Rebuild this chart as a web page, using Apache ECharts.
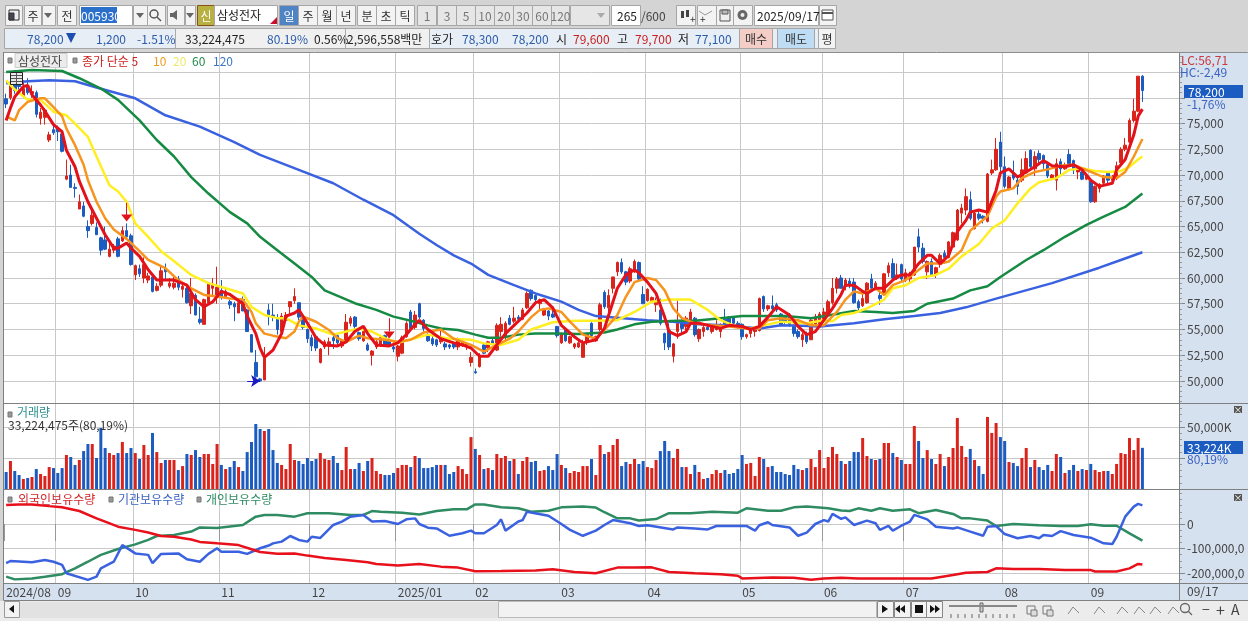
<!DOCTYPE html>
<html><head><meta charset="utf-8">
<style>html,body{margin:0;padding:0;background:#d4d4d4}#c{width:1248px;height:621px}</style>
<script src="https://cdn.jsdelivr.net/npm/echarts@6/dist/echarts.min.js"></script>
</head><body><div id="c"></div>
<script>
// ---- DATA (prices in thousand won) ----
const slotCount = 273;
const monthStarts = [0,12,30,50,71,91,109,129,149,171,190,209,232,252];
const monthLabels = ['2024/08','09','10','11','12','2025/01','02','03','04','05','06','07','08','09'];
// [open, close, low, high]
const candles = [
[77.4,76.9,76.5,77.9],[77.5,79,77.3,79.5],[79.6,78.2,77.9,80.2],[79,78.6,78.3,79.5],[77.7,78.4,77.5,79.2],[78.7,78,77.8,79.4],[77.9,78.1,77.5,78.7],[78,75.9,75.6,78.2],[75.5,76.1,74.9,76.5],[75.6,76.3,74.9,76.5],
[73.4,73.9,73.2,74.2],[74.4,74.1,73.9,75],[74.5,74.2,73.3,74.8],[74,72.3,72.2,74.2],[69.6,69.9,69.5,71.5],[70,68.8,68.8,71],[68.8,68.7,67.8,69.2],[66.7,67.4,66.7,68.1],[67,66,65.9,67.4],[65,64.6,63.9,65.6],
[65.3,66.1,65.1,66.6],[64.9,64.2,64.2,65.4],[63.9,62.7,62.2,64],[63.7,62.8,62.7,65],[62.1,62.8,62,63.5],[62.7,63.1,62.4,63.3],[63.8,62.1,62,64],[63.6,64.6,63.5,65],[64.6,64,63.9,65.3],[64.1,61.3,61.2,64.3],
[60.3,61.2,59.8,61.3],[60.9,60.4,60.1,61.3],[60,61.3,59.5,62],[59.8,60.2,59.5,60.5],[60.1,58.7,58.6,60.2],[58.8,59.2,58.7,59.5],[59.3,60.7,59.1,61.2],[60.9,60.6,59.8,61.4],[59.2,59.5,59,60],[59.1,59.5,58.9,60.1],
[59.9,59.1,58.8,60.2],[58.9,59.2,58.1,59.5],[59,57.6,57.5,59.3],[57.3,58.5,56.5,60],[58.3,56.4,56.4,58.5],[56,55.7,55.5,57.2],[55.5,57.9,55.5,58],[57.6,59.5,57.5,59.5],[59,59.3,58.3,60],[58.2,59.1,57.5,61.1],
[58.8,58.2,57.9,59.8],[58.2,58.7,58,59],[57.7,57.4,57,57.9],[57.5,57.2,55.8,57.7],[56.6,57.6,56.6,57.9],[57.9,56.8,56.8,58.2],[56.9,54.8,54.8,57],[54.5,52.8,52.8,54.5],[51.8,50.4,50.3,53],[50.2,50,49.9,50.3],
[50.1,52.2,50.1,53.3],[56.9,56.4,55.4,57.5],[56.4,56.2,55.8,57.5],[56,55,54.5,56.5],[54.8,56.3,54.4,56.6],[55.9,56.4,55.8,56.7],[57.2,57.7,56.5,57.7],[57.8,58.2,57.5,59],[57.6,56.2,55.9,57.6],[56.1,55.2,55,56.5],
[55,54.1,53.7,55.1],[54.2,53.4,52.9,54.5],[54.3,53.2,52.9,54.4],[51.8,53.1,51.7,53.2],[53.3,53.8,53.1,54],[53.4,53.8,52.5,54.2],[54.2,53.9,53.1,54.5],[54.4,53.7,53.5,54.6],[53.4,53.9,53.2,54],[53.8,55.7,53.8,56.5],
[55.6,56.1,55.3,56.3],[56.2,55.3,54.8,56.3],[54.7,54.1,53.9,54.8],[53.9,54.8,53.8,55],[53.5,53,52.9,53.7],[52.5,52.9,51.5,53],[53.3,53.8,53.1,54],[53.5,54.2,53.3,54.4],[54.4,53.4,53.3,54.5],[54,53.5,53.3,54.2],
[53.3,53.1,52.8,53.8],[52.4,53.4,51.9,53.5],[52.7,54.2,52.6,54.4],[54.3,55.6,54.2,55.8],[56.7,55.1,55,56.9],[55.2,56.4,55,56.8],[57.5,56.2,56,57.6],[55.9,55.1,54.8,56],[54.5,53.9,53.8,54.7],[54.1,53.6,53.4,54.4],
[54,53.5,53.3,54.1],[53.8,54.1,53.6,55],[53.6,53.3,53,53.8],[53.5,53.3,53.1,53.6],[53.6,53.3,53.1,53.8],[53.3,54.1,53,54.2],[53.5,53.8,53.3,53.9],[53.4,53.6,53,53.7],[51.8,52.3,51.4,52.8],[50.9,50.8,50.7,51.2],
[51.4,52.5,51.3,52.7],[53.5,52.7,52.6,53.7],[53.2,53.8,52.8,53.9],[53.9,53.6,53.5,54.1],[53,55.4,52.9,55.6],[54.8,55.5,54.3,56.2],[54.3,55.6,53.8,55.8],[56.1,55.5,55.4,56.4],[55.8,56.1,55.6,57.2],[56.2,56,55.8,56.4],
[56,56.9,55.9,57.1],[57.1,58.5,57,58.7],[58.8,58,57.8,58.9],[58.3,57.9,57.7,58.4],[57.5,57.9,57,58],[56.4,57,56.3,57.1],[56.8,56.3,55.9,56.9],[56.5,56.2,56.1,56.9],[55.3,54.4,54.2,55.3],[53.7,54.6,53.6,54.7],
[55,53.9,53.8,55.1],[53.7,54.3,53.6,54.4],[53.3,53.6,53.1,53.7],[53.3,53.7,53.2,53.9],[52.3,53.6,52.3,54],[53.8,54.6,53.5,54.7],[55.6,54.4,54.2,55.7],[53.9,54.3,53.8,54.4],[55,57.4,54.8,57.6],[58.6,57.2,57,58.8],
[57.1,58.3,56.4,58.9],[59,60.1,58.5,60.1],[60.6,61.5,60.2,61.6],[61.5,60.6,60.4,61.9],[60.6,59.6,59.3,60.7],[59.7,60.9,59.5,61.1],[60.6,61.6,60.5,61.8],[61.5,59.9,59.8,61.6],[58.4,57.5,57.5,59.2],[57.8,58.9,57.7,59],
[57.8,58.1,57.7,58.2],[57.4,57.7,56.7,58.1],[56.9,55.6,55.4,58],[54.6,53.7,53,54.7],[54.9,53.3,53,55.6],[52.4,53.6,51.8,53.7],[54.8,55.6,54.1,57.8],[55.7,55.1,54.6,56],[55.3,56.1,54.9,56.3],[55.6,56.7,55.4,57],
[56.1,54.5,54.3,56.2],[54.1,55,53.8,55.1],[54.8,55.2,54.3,55.6],[55.2,55,54.9,55.4],[54.8,55.3,54.6,55.4],[55,55.3,54.9,55.9],[54.8,55.4,54.2,55.6],[56,55.4,55.3,57],[56.2,55.4,55.3,56.3],[56.2,55.6,55.4,56.3],
[55.6,55.2,55.1,55.8],[55.5,54.3,54,55.6],[54.3,54.5,54.1,54.6],[54.6,55,54.2,55.1],[54.8,55,54.3,55.2],[54.9,58,54.8,58.1],[58.2,57,56.7,58.3],[57,57.3,56.8,57.4],[57.3,57,56.8,58.3],[57.4,56.9,56.7,57.6],
[56.5,55.5,55.3,56.6],[56.2,55.8,55.5,56.4],[56.3,55.5,55.3,56.6],[55.3,54.6,54.3,55.5],[54.8,54.3,54.1,55],[54,54.5,53.3,54.7],[54.6,53.8,53.6,54.8],[54,55.9,54,56],[55.5,56.2,55.4,56.5],[55.4,56.5,55.3,56.7],
[55.9,56.7,55.7,57.1],[56.5,57.7,56.2,57.9],[57.6,59,57.4,60],[59,59.9,58.5,60.1],[60,59,59,60.3],[59.2,59.8,58.8,60],[59.7,59.3,59,60],[59.6,57.6,57.5,60],[57.7,57.1,56.8,57.9],[57.3,58,57.2,58.8],
[57.6,59.5,57.5,59.6],[59.9,59,58.8,60.4],[59,59.5,58.8,59.7],[58.3,58,57.4,58.7],[58.4,60.4,58.3,60.5],[60.5,61.2,60.1,61.5],[61.4,60,59.8,61.9],[60,60.3,59.8,61.4],[61.3,59.9,59.6,61.4],[59.8,60.5,59.6,60.9],
[59.9,60.4,59.6,60.6],[60.3,63,60.2,63],[64,63,62.5,64.8],[62.9,61.6,61.4,63.4],[60.6,61.6,59.9,61.7],[61.6,60.3,60.1,61.9],[60.4,61,60,61.1],[61.3,62.2,61,62.4],[62.4,62,61.4,62.7],[62,63.5,61.9,63.6],
[63,64.4,62.9,64.5],[63.7,66.6,63.6,66.7],[66.3,66.8,65.3,67.2],[66.6,67.9,66.1,68.7],[67.6,65.8,65.6,68.4],[64.8,66.3,64.7,66.6],[66.2,65.8,65.6,66.7],[66,65.8,65.3,66.1],[65.5,70.1,65.4,70.2],[70.2,70.5,70,71.5],
[70.5,72.5,70.4,73.6],[73.2,70.8,69.8,74.2],[70.8,68.9,68.7,71.8],[68.7,69.8,68.5,69.9],[70.2,69.7,69.5,71.4],[69.5,68.9,68.1,70],[69.5,70.5,69.3,71.6],[70.2,71.6,70.1,72.3],[72.4,70.8,70.5,72.5],[70.6,71.8,69.9,72.3],
[72.1,71.5,71.1,72.4],[71.9,71.1,70.6,72],[71,69.9,69.7,71.3],[69.7,70,69.5,70.1],[69.5,71.1,68.5,71.6],[71.3,70.6,70,71.6],[70.6,71,70.5,71.2],[72,71.1,71,72.5],[71.4,70.5,70.1,71.5],[70.3,70.5,69.6,70.8],
[70.3,69.6,69.5,70.4],[69.6,70,69.5,70.1],[69.4,67.4,67.3,69.5],[67.4,68.9,67.3,69],[68.7,69.1,68.3,69.2],[69.2,69.9,69.1,70],[70.2,69.5,69.2,70.3],[69.5,69.8,69.4,70],[69.9,70.9,69.5,71.3],[71.2,72.5,71.1,72.7],
[72.5,72.9,72.3,73.6],[73.2,75.3,73.1,75.5],[75.3,76.2,75.1,77.4],[76.2,79.6,76.1,79.6],[79.6,78.2,77.1,79.7]
];
// millions of shares
const volumes = [13.7,22.6,14.5,11.3,8.1,8.9,9.7,16.1,12.1,10.5,17.7,16.9,12.9,16.9,27.4,25.8,19.4,23.4,30.6,36.3,36.3,25,49.2,33.1,29,27.4,29,37.9,29,33.1,29,24.2,35.5,27.4,45.2,29.8,21,23.4,23.4,23.4,15.3,18.5,28.2,27.4,31.4,25.8,28.2,28.2,20.2,36.3,19.4,16.1,17.7,22.6,17.7,14.5,29.8,37.9,52.4,48.4,46.8,48.4,31.4,21,19.4,16.1,36.3,23.4,22.6,20.2,25,22.6,24.2,29,24.2,23.4,26.6,21,15.3,33.9,16.1,16.1,21,14.5,22.6,25,14.5,12.1,11.3,11.3,12.9,16.9,19.4,19.4,17.7,26.6,25,16.9,16.9,17.7,19.4,19.4,19.4,12.1,13.7,18.5,16.1,12.1,41.9,32.3,27.4,16.1,16.9,15.3,28.2,25,26.6,22.6,24.2,12.1,22.6,25.8,21.8,22.6,14.5,15.3,18.5,15.3,28.2,19.4,16.9,12.9,14.5,13.7,18.5,18.5,24.2,11.3,35.5,28.2,29.8,35.5,40.3,18.5,21.8,20.2,24.2,20.2,22.6,17.7,16.9,23.4,30.6,38.7,30.6,25,32.3,17.7,17.7,12.1,19.4,13.7,8.1,8.9,12.1,15.3,12.9,15.3,12.1,12.9,16.1,27.4,20.2,21,10.5,25.8,24.2,17.7,18.5,13.7,13.7,12.1,11.3,19.4,16.1,15.3,16.9,24.2,17.7,31.4,16.9,25.8,33.9,28.2,22.6,20.2,22.6,29.8,29.8,41.1,26.6,24.2,23.4,24.2,37.1,37.1,29,25.8,23.4,20.2,20.2,50.8,38.7,25,31.4,24.2,20.2,28.2,18.5,25.8,33.1,57.3,34.7,25.8,32.3,23.4,18.5,12.1,58.1,45.2,53.2,41.9,38.7,21.8,21,18.5,25,33.1,17.7,23.4,17.7,15.3,19.4,14.5,28.2,25.8,12.9,15.3,19.4,14.5,16.1,15.3,20.2,15.3,13.7,14.5,14.5,12.1,20.2,29,28.2,41.1,31.4,41.1,33.2];
// moving averages as [bar, value]
const ma5 = [[0,75.3],[1,76.5],[2,77.6],[4,78.6],[5,78.7],[6,77.8],[8,76.8],[9,76.2],[11,74.9],[13,74.2],[14,72.4],[16,70.8],[17,69.4],[19,67.4],[21,65.8],[23,64.2],[25,62.9],[26,62.9],[28,63.4],[29,62.9],[31,62.1],[33,60.8],[35,59.8],[37,59.8],[39,59.8],[42,59.3],[44,57.9],[46,57.2],[48,57.7],[50,58.7],[52,58.4],[55,57.5],[56,56.3],[58,54.6],[59,53.2],[60,52.3],[62,53],[64,54.6],[65,56.3],[67,56.6],[68,56.9],[70,55.6],[72,54.2],[74,53.5],[77,53.4],[79,53.8],[81,54.8],[83,55.3],[84,54.6],[86,53.5],[89,53.4],[91,53.7],[93,54.5],[95,55.5],[96,55.9],[98,55],[101,54.1],[104,53.7],[106,53.5],[108,53.2],[110,52.4],[112,52.4],[114,53.5],[116,54.6],[118,55.4],[121,56.6],[123,57.6],[125,57.9],[127,57.1],[129,55.4],[132,54.3],[134,53.7],[137,54],[139,55.1],[140,56.4],[142,59],[144,60.3],[146,60.8],[147,60.5],[149,59.6],[151,58.5],[153,56.2],[154,54.8],[156,54.4],[158,54.8],[159,55.6],[161,55.6],[164,55.3],[166,55.1],[168,55.4],[171,55.3],[173,55],[175,55.3],[177,56.2],[179,57.2],[182,56.4],[184,55.3],[186,54.5],[188,54.8],[190,55.9],[192,57.05],[194,58.4],[195,59.3],[197,59.3],[199,58.7],[200,58.5],[202,59],[204,59],[206,59.8],[208,60.3],[210,60.3],[212,61.4],[214,62.2],[215,62.2],[217,61.4],[219,62.2],[221,64.5],[223,65.6],[224,66.4],[226,66.6],[228,66.4],[230,68.5],[231,70.2],[233,70.6],[235,69.8],[237,70.3],[239,70.8],[241,71.4],[243,70.9],[246,70.8],[248,71],[250,70.5],[252,69.5],[254,68.9],[257,69.2],[258,70.5],[260,71.5],[262,73.9],[263,75.7],[264,76.4]];
const ma10 = [[0,75.7],[2,75.3],[3,76.3],[5,77.1],[8,77.45],[9,77.45],[11,76.6],[13,75.7],[14,74.5],[16,72.9],[18,71],[19,69.5],[21,67.4],[23,65.8],[25,64.7],[28,63.8],[31,62.6],[33,61.75],[37,60.95],[40,59.8],[43,59],[46,58.35],[49,58.2],[52,58],[55,57.9],[57,56.7],[58,55.6],[60,54.6],[62,54.4],[65,54.15],[67,54.8],[68,55.75],[69,56.25],[72,55.75],[75,54.95],[77,54.15],[79,53.8],[82,54.4],[84,54.15],[88,54],[91,53.8],[94,54],[97,54.7],[101,55],[104,54.1],[108,53.5],[111,52.85],[114,53.5],[117,54.1],[119,54.8],[122,56.2],[124,56.9],[126,57.05],[129,56.7],[131,55.76],[134,54.5],[137,54.1],[139,54.95],[142,56.4],[144,58.2],[146,59.6],[149,60],[151,59.8],[153,58.8],[155,57.05],[157,56.1],[160,55.6],[164,55.4],[168,55.3],[172,55.1],[175,55.1],[177,55.9],[180,56.1],[184,55.9],[187,55.4],[190,55.4],[193,56.7],[195,57.9],[197,58.7],[199,58.5],[202,59],[204,58.35],[206,59.3],[209,59.8],[211,60.45],[214,61.4],[217,61.4],[219,61.6],[222,62.7],[224,64.6],[228,66],[230,67.9],[231,68.4],[234,68.7],[236,69.7],[239,70.3],[242,70.55],[245,70.9],[248,71],[252,70.3],[255,69.8],[258,69.7],[260,70.3],[262,71.8],[264,73.5]];
const ma20 = [[0,79.2],[2,78.3],[5,77.3],[8,77.3],[11,76.15],[14,75.8],[16,75],[19,73.7],[21,71.8],[24,69],[26,68.4],[28,67.4],[30,65.3],[33,64],[36,62.6],[40,61.3],[43,60.3],[47,59.5],[51,59],[55,58.5],[57,57.2],[60,56.4],[63,56.1],[65,56.1],[68,55.4],[72,55.1],[76,54.5],[79,54.8],[82,55.1],[85,54.8],[88,54.15],[91,53.7],[95,54.15],[98,54.5],[103,54.1],[108,54],[111,53.65],[115,53.5],[119,54],[122,55],[127,55.7],[132,55.85],[137,55.85],[142,55.9],[146,56.7],[150,57.7],[154,57.9],[159,57.9],[163,56.9],[166,55.9],[169,55.4],[173,55.1],[176,55.4],[180,55.76],[186,55.6],[190,55.9],[192,55.8],[194,56.4],[197,56.6],[200,57.05],[204,57.9],[206,59],[209,59.3],[212,60],[216,60.3],[219,60.9],[222,62.1],[226,63.3],[229,64.8],[232,65.6],[235,67.25],[238,68.7],[240,69.3],[244,69.7],[247,70.5],[250,70.65],[253,70.4],[256,70.3],[259,70.4],[261,70.8],[263,71.5],[264,71.8]];
const ma60 = [[0,80],[6,80.2],[13,80.1],[17,79.4],[22,78.4],[26,77.3],[31,75.3],[35,73.4],[39,71.8],[43,69.8],[47,68.2],[52,66.4],[56,65.3],[59,64],[63,62.7],[67,61.4],[71,60.1],[74,58.8],[78,58.1],[81,57.55],[86,56.9],[90,56.25],[94,55.85],[98,55.4],[101,55.1],[105,54.95],[109,54.5],[112,54.2],[115,54.2],[119,54.5],[123,54.6],[128,54.6],[133,54.55],[139,54.7],[142,55],[146,55.5],[150,55.76],[156,55.85],[160,55.85],[166,56.1],[171,56.3],[176,56.3],[181,56.3],[187,56.1],[193,56.5],[197,56.8],[202,56.7],[206,56.6],[211,56.8],[214,57.5],[220,58],[224,58.8],[228,59.2],[231,60.1],[237,61.75],[241,62.7],[246,64],[251,65.15],[255,65.95],[260,66.9],[264,68.2]];
const ma120 = [[0,78.9],[5,79.1],[10,79.2],[16,79.1],[21,78.5],[30,77.45],[37,75.8],[45,74.7],[53,73.2],[59,71.95],[68,70.5],[76,69.2],[83,67.6],[90,66.1],[96,64.3],[100,63.2],[104,62.2],[108,61.4],[112,60.3],[118,59.3],[123,58.5],[129,57.7],[133,56.9],[137,56.3],[142,56.15],[149,55.9],[155,55.76],[161,55.5],[167,55.4],[175,55.1],[180,55.4],[185,55.35],[189,55.3],[197,55.6],[204,56],[211,56.3],[217,56.6],[223,57.15],[230,58],[243,59.5],[254,61],[259,61.75],[264,62.5]];
// holdings as [bar, value in thousand shares]
const foreignHold = [[0,77.5],[3,80],[6,80],[10,73],[13,68],[17,53],[21,23],[23,10],[26,-11],[30,-24],[33,-35],[36,-49],[39,-52],[43,-63],[45,-73],[49,-79],[54,-86],[57,-103],[59,-114],[63,-121],[67,-120],[70,-129],[74,-139],[79,-147],[84,-156],[86,-163],[91,-169],[96,-163],[101,-174],[105,-178],[109,-193],[115,-192],[123,-190],[127,-185],[132,-196],[137,-201],[142,-178],[146,-178],[150,-177],[154,-196],[160,-201],[166,-205],[170,-211],[171,-222],[178,-218],[183,-219],[187,-228],[190,-222],[194,-219],[198,-222],[204,-222],[209,-222],[215,-222],[220,-208],[223,-199],[228,-196],[230,-181],[234,-184],[240,-184],[246,-188],[252,-188],[253,-194],[258,-194],[261,-181],[263,-163],[264,-165]];
const instHold = [[0,-160],[1,-151],[6,-156],[9,-147],[11,-154],[13,-167],[14,-201],[19,-228],[21,-215],[22,-181],[25,-154],[27,-86],[30,-120],[33,-126],[34,-160],[36,-122],[40,-120],[42,-144],[45,-154],[47,-122],[49,-99],[50,-113],[54,-113],[56,-122],[59,-99],[61,-88],[62,-79],[64,-72],[66,-49],[68,-65],[70,-72],[71,-52],[73,-57],[76,-4],[78,10],[80,30],[83,37],[85,10],[88,12],[91,0],[93,19],[95,23],[96,0],[98,-15],[100,-18],[103,-48],[106,-38],[108,-27],[109,-38],[111,-38],[114,-4],[115,19],[116,-27],[119,10],[120,16],[121,50],[126,34],[129,0],[131,-24],[134,-48],[137,-27],[139,-4],[141,16],[145,3],[147,-8],[149,-5],[155,-22],[156,-14],[160,-18],[163,-22],[165,-8],[169,-8],[172,-8],[174,-27],[175,-5],[177,7],[178,-4],[182,-14],[184,-48],[186,-35],[188,0],[190,16],[191,10],[192,41],[194,21],[195,27],[197,-4],[200,14],[202,3],[203,-24],[205,-8],[206,-27],[208,-7],[210,10],[211,37],[214,19],[216,-11],[220,-18],[221,-14],[224,-31],[227,-48],[228,-11],[230,-8],[232,-41],[235,-58],[238,-49],[240,-58],[241,-45],[243,-49],[245,-29],[248,-45],[252,-56],[255,-79],[257,-82],[258,-52],[260,30],[262,71],[263,82],[264,76]];
const indivHold = [[0,-215],[2,-226],[6,-222],[9,-215],[13,-205],[16,-181],[19,-154],[22,-126],[26,-102],[30,-83],[33,-65],[35,-49],[39,-45],[43,-31],[45,-14],[49,-16],[55,-4],[58,30],[60,37],[63,37],[67,30],[70,44],[75,44],[80,37],[83,37],[85,53],[87,50],[92,46],[96,39],[100,53],[104,60],[107,60],[109,80],[111,80],[115,68],[119,64],[122,50],[126,54],[129,68],[134,71],[137,67],[139,48],[142,23],[145,23],[147,14],[151,20],[154,44],[159,44],[164,50],[170,46],[172,64],[177,54],[180,54],[183,68],[186,71],[191,64],[194,55],[196,53],[198,64],[201,54],[203,64],[206,54],[210,60],[212,44],[216,57],[220,41],[222,23],[224,23],[228,14],[230,-8],[234,0],[240,-5],[245,-8],[249,-8],[252,-1],[255,-7],[258,-7],[261,-38],[264,-68]];
// axis ticks
const priceGrid = [50,52.5,55,57.5,60,62.5,65,67.5,70,72.5,75,77.5,80];
const priceLabels = [50,52.5,55,57.5,60,62.5,65,67.5,70,72.5,75];
const volTicks = [25,50];
const volLabels = [50];
const holdTicks = [0,-100,-200];
const holdLabelText = {'0':'0','-100':'-100,000,0','-200':'-200,000,0'};

// ---- colours ----
const RED='#d9231b', BLUE='#1c5cc0';
const FONT='"Noto Sans CJK KR","Liberation Sans",sans-serif';
const categories = Array.from({length:slotCount},(_,i)=>{const m=monthStarts.indexOf(i);return m>=0?monthLabels[m]:String(i);});
const isMonth = i => monthStarts.indexOf(i)>=0;

// ---- graphic helpers ----
const G=[];
const rect=(x,y,w,h,fill,stroke,z=200)=>G.push({type:'rect',z,silent:true,shape:{x,y,width:w,height:h},style:{fill:fill||'none',stroke:stroke||'none',lineWidth:1}});
const text=(x,y,t,fill='#333',o={})=>G.push({type:'text',z:o.z||201,silent:true,x,y,style:{text:t,fill,font:(o.size||12)+'px '+FONT,textAlign:o.align||'left',textVerticalAlign:'middle'}});
const poly=(pts,fill,z=201)=>G.push({type:'polygon',z,silent:true,shape:{points:pts},style:{fill}});
const line=(x1,y1,x2,y2,stroke,z=200,lw=1)=>G.push({type:'line',z,silent:true,shape:{x1,y1,x2,y2},style:{stroke,lineWidth:lw}});
const downArrow=(cx,cy,c='#666')=>poly([[cx-4,cy-2],[cx+4,cy-2],[cx,cy+3]],c);
const BTN='#f3f3f3', EDGE='#a6a6a6';
const btn=(x,w,t,y=5,h=20,fill=BTN,color='#333')=>{rect(x+.5,y+.5,w,h,fill,EDGE);if(t)text(x+w/2+.5,y+h/2+1,t,color,{align:'center'});};

// plot panels (behind axes)
rect(3.5,52.5,1244,548,'#ffffff','#8c8c8c',-2);
rect(1179,53,69,547,'#d6e1f0',null,-1);
rect(4,583,1175,17,'#d6e1f0',null,-1);
// panel separators
line(4,403.5,1248,403.5,'#808080',3);
line(4,489.5,1248,489.5,'#808080',3);
line(4,583.5,1248,583.5,'#808080',3);
line(4,600.5,1248,600.5,'#808080',3);
line(1179.5,53,1179.5,600,'#808080',3);
line(3.5,52,3.5,600,'#808080',3);

// toolbar row 1
btn(5,17,'');rect(9,10,10,10,'#eee','#333');rect(9,13,5,7,'#445','#333');
btn(24,17,'주');btn(42,13,'');downArrow(48,15);btn(57,19,'전');
rect(79.5,5.5,53,20,'#fff',EDGE);rect(81,7,36,16,'#2a6fc9');text(81,16,'005930','#fff');
btn(133,14,'');downArrow(140,15);btn(147,18,'');
G.push({type:'circle',z:201,silent:true,shape:{cx:154,cy:14,r:4},style:{fill:'none',stroke:'#555',lineWidth:1.5}});line(157,17,161,21,'#555',201,1.5);
btn(167,17,'');poly([[170,13],[173,13],[177,10],[177,20],[173,17],[170,17]],'#666');btn(185,10,'');downArrow(190,15);
rect(197.5,5.5,17,20,'#b8b040','#84541a');text(206,16,'신','#fff',{align:'center'});
rect(214.5,5.5,63,20,'#fff',EDGE);text(217,15,'삼성전자','#222');poly([[270,24],[277,24],[277,17]],'#c8102e');
btn(279,19,'일',5,20,'#4f83c4','#fff');btn(298,19,'주');btn(317,19,'월');btn(336,19,'년');btn(357,19,'분');btn(376,19,'초');btn(395,19,'틱');
[['1',417],['3',437],['5',456],['10',475],['20',494],['30',513],['60',532],['120',551]].forEach(b=>btn(b[1],b[0]==='120'?18:19,b[0],5,20,'#e6e6e6','#777'));
btn(570,39,'',5,20,'#e6e6e6');downArrow(601,15,'#aaa');
rect(611.5,5.5,29,20,'#fff',EDGE);text(637,16,'265','#222',{align:'right'});text(641,16,'/600','#444');
btn(676,19,'');rect(681,11,3,7,'#444');rect(686,10,3,7,'#444');text(690,19,'+','#333',{size:10});
btn(697,19,'');text(700,19,'+','#333',{size:10});line(699,11,705,15,'#999',201);line(705,15,712,11,'#999',201);
btn(716,17,'');rect(720,10,10,11,'#eee','#555');rect(722,10,6,4,'#bbb','#555');
btn(733,19,'');G.push({type:'circle',z:201,silent:true,shape:{cx:742.5,cy:15,r:5},style:{fill:'#666'}});G.push({type:'circle',z:202,silent:true,shape:{cx:742.5,cy:15,r:2},style:{fill:'#eee'}});
rect(754.5,5.5,64,20,'#fff',EDGE);text(757,16,'2025/09/17','#222');
btn(819,17,'');rect(822,10,11,10,'#fff','#555');line(822,13,833,13,'#555',201,2);

// toolbar row 2
rect(4.5,28.5,831,20,'#e8eef6',EDGE);
rect(176,29,254,19,'#f0f0f0');line(175.5,29,175.5,48,'#aaa',201);
const BLUE_T='#2a5cab', RED_T='#c81e1e';
text(27,39,'78,200',BLUE_T);poly([[66,33],[76,33],[71,43]],'#1c4fae');
text(96,39,'1,200',BLUE_T);text(137,39,'-1.51%',BLUE_T);
text(185,39,'33,224,475','#222');text(267,39,'80.19%',BLUE_T);text(314,39,'0.56%','#222');
text(347,39,'2,596,558백만','#222');line(345.5,29,345.5,48,'#aaa',201);line(429.5,29,429.5,48,'#aaa',201);
text(431,39,'호가','#222');text(462,39,'78,300',BLUE_T);text(512,39,'78,200',BLUE_T);
text(556,39,'시','#222');text(573,39,'79,600',RED_T);text(617,39,'고','#222');text(635,39,'79,700',RED_T);
text(678,39,'저','#222');text(695,39,'77,100',BLUE_T);
rect(739.5,28.5,33,20,'#f3cdc6',EDGE);text(756,39,'매수','#333',{align:'center'});
rect(777.5,28.5,37,20,'#bfdcf5',EDGE);text(796,39,'매도','#333',{align:'center'});
rect(818.5,28.5,17,20,'#f3f3f3',EDGE);text(827,39,'평','#333',{align:'center'});

// chart legends
rect(8,58,4,5,'#999','#777');rect(15,53.5,52,14,'#ececec','#ccc',1);text(18,61,'삼성전자','#444');
rect(73,58,4,5,'#999','#777');
text(82,61,'종가 단순 5','#c8221e');text(153,61,'10','#f09a22');text(173,61,'20','#efe96a');text(192,61,'60','#248a4c');text(213,61,'120','#3a76c8');
rect(10.5,72.5,12,12,'#e8e8e8','#222',150);line(11,78.5,22,78.5,'#555',151);line(16.5,73,16.5,84,'#555',151);line(11,75.5,22,75.5,'#555',151);line(11,81.5,22,81.5,'#555',151);
rect(8,412,4,5,'#999','#777');text(17,412,'거래량','#2f8f8f');text(8,425,'33,224,475주(80,19%)','#333');
rect(8,497,4,5,'#999','#777');text(18,499,'외국인보유수량','#d0262a');
rect(109,497,4,5,'#999','#777');text(118,499,'기관보유수량','#3a62c0');
rect(197,497,4,5,'#999','#777');text(206,499,'개인보유수량','#2e8b62');

// right column readouts
text(1181,60,'LC:56,71','#c8383c');text(1180,72,'HC:-2,49','#3a62c0');
rect(1184,85,59,13,'#1c5cc0');text(1188,92,'78,200','#fff');text(1187,104,'-1,76%','#3a62c0');
rect(1184,441,59,13,'#1c5cc0');text(1187,448,'33,224K','#fff');text(1187,459,'80,19%','#3a62c0');
rect(1234,406,8,7,'#555');text(1238,410,'×','#fff',{align:'center',size:9});
rect(1234,494,8,7,'#555');text(1238,498,'×','#fff',{align:'center',size:9});
text(1187,591,'09/17','#444');

// bottom bar
rect(0,601,1248,20,'#ececec');
rect(4.5,601.5,15,16,'#f3f3f3','#999');poly([[14,605],[14,613],[9,609]],'#111');
rect(20,602,478,16,'#e2e2e2');rect(498.5,601.5,378,16,'#f2f2f2','#bbb');
[877,894,911,926].forEach(x=>rect(x+.5,601.5,16,16,'#f3f3f3','#888'));
poly([[882,605],[882,613],[888,609]],'#111');
poly([[905,605],[905,613],[900,609]],'#111');poly([[900,605],[900,613],[895,609]],'#111');
rect(915,605,8,8,'#111');
poly([[930,605],[930,613],[935,609]],'#111');poly([[935,605],[935,613],[940,609]],'#111');
line(949,606,1017,606,'#888',201,2);rect(980,603,3,9,'#ccc','#666');
[965,1000].forEach(()=>{});
for(const x of [951,958,965,972,979,986,993,1000,1007,1014])line(x,614,x,618,'#666',201);
rect(1027,606,8,8,'none','#777');rect(1031,610,6,6,'#ddd','#777');rect(1043,606,8,8,'none','#777');rect(1047,610,6,6,'#ddd','#777');
[1068,1094,1117,1134,1150,1168].forEach(x=>{line(x,614,x+5,607,'#888',201);line(x+5,607,x+11,613,'#888',201);});
G.push({type:'circle',z:201,silent:true,shape:{cx:1185,cy:608,r:4.5},style:{fill:'none',stroke:'#666',lineWidth:1.3}});line(1188,611,1192,615,'#666',201,1.3);
text(1202,610,'−','#444',{size:14});text(1216,610,'+','#444',{size:16});text(1231,610,'A','#444',{size:14});

// ---- events ----
const P_ARROW1=[28,65.83], P_ARROW2=[89,54.47];
const tick5 = Array.from({length:69},(_,i)=>48+i*0.5);

const xAxisBase=(grid)=>({type:'category',gridIndex:grid,data:categories,boundaryGap:true,
  axisLine:{show:false},axisTick:{show:false},axisLabel:{show:false},
  splitLine:{show:true,interval:(i)=>isMonth(i)&&i>0,lineStyle:{color:'#c9c9c9',width:1}}});
const xAxes=[xAxisBase(0),xAxisBase(1),Object.assign(xAxisBase(2),{
  axisTick:{show:true,interval:(i)=>isMonth(i),length:17,lineStyle:{color:'#999'}},
  axisLabel:{show:true,interval:(i)=>isMonth(i),align:'left',margin:3,color:'#444',fontSize:12,fontFamily:FONT,verticalAlign:'top',hideOverlap:false}})];
const majorY=(grid,min,max,ticks,labels,fmt)=>({type:'value',gridIndex:grid,position:'right',min,max,
  axisLine:{show:false},
  axisTick:{show:true,length:6,customValues:ticks,lineStyle:{color:'#888'}},
  axisLabel:{show:true,customValues:labels,margin:8,align:'left',color:'#444',fontSize:12,fontFamily:FONT,formatter:fmt},
  splitLine:{show:true,lineStyle:{color:'#c9c9c9',width:1}}});
const minorY=(grid,min,max,ticks)=>({type:'value',gridIndex:grid,position:'right',min,max,
  axisLine:{show:false},axisLabel:{show:false},splitLine:{show:false},
  axisTick:{show:true,length:3,customValues:ticks,lineStyle:{color:'#999'}}});
const lineS=(name,data,color,w=2.5,yi=0,xi=0,z=3)=>({type:'line',name,data,xAxisIndex:xi,yAxisIndex:yi,symbol:'none',z,animation:false,lineStyle:{color,width:w}});
const fmtPrice=v=>(Math.round(v*1000)).toLocaleString('en-US');

const priceMin=47.86, priceMax=81.85, volMax=68.55, holdMin=-240.8, holdMax=138.8;
const chart=echarts.init(document.getElementById('c'),null,{renderer:'canvas',width:1248,height:621});
chart.setOption({
  animation:false,backgroundColor:'#d4d4d4',
  graphic:{elements:G},
  grid:[{left:4,width:1175,top:53,height:350},{left:4,width:1175,top:404,height:85},{left:4,width:1175,top:490,height:93}],
  xAxis:xAxes,
  yAxis:[
    majorY(0,priceMin,priceMax,priceGrid,priceLabels,fmtPrice),
    minorY(0,priceMin,priceMax,tick5),
    majorY(1,0,volMax,volTicks,volLabels,v=>(v*1000).toLocaleString('en-US')+'K'),
    minorY(1,0,volMax,[5,10,15,20,30,35,40,45,55,60,65]),
    majorY(2,holdMin,holdMax,holdTicks,holdTicks,v=>holdLabelText[String(v)]),
    minorY(2,holdMin,holdMax,[-225,-175,-150,-125,-75,-50,-25,25,50,75,100,125])
  ],
  series:[
    {type:'line',name:'notes',data:[],xAxisIndex:0,yAxisIndex:0,symbol:'none',z:1,silent:true,
      markPoint:{animation:false,symbol:'none',silent:true,data:[
        {coord:[2,79.9],symbol:'none',label:{show:true,formatter:'최고 80,200 (08/16)',position:'right',distance:9,color:'#c8221e',fontSize:12,fontFamily:FONT}},
        {coord:[28,68.16],symbol:'none',label:{show:true,formatter:'배당락(0,00%)',position:'inside',color:'#444',fontSize:12,fontFamily:FONT}},
        {coord:[89,56.9],symbol:'none',label:{show:true,formatter:'배당락(0,00%)',position:'inside',color:'#444',fontSize:12,fontFamily:FONT}},
        {coord:[55,50.0],symbol:'none',label:{show:true,formatter:'최저 49,900 (11/14)',position:'left',distance:6,color:'#1a1ac0',fontSize:12,fontFamily:FONT}}
      ]}},
    {type:'candlestick',name:'삼성전자',data:candles,xAxisIndex:0,yAxisIndex:0,barWidth:3,z:2,animation:false,
      itemStyle:{color:RED,color0:BLUE,borderColor:RED,borderColor0:BLUE,borderWidth:1}},
    lineS('120',ma120,'#3a62e0'),lineS('60',ma60,'#148a42'),lineS('20',ma20,'#ffef22'),lineS('10',ma10,'#f7941d'),lineS('5',ma5,'#e3121a',3),
    {type:'line',name:'marks',data:[],xAxisIndex:0,yAxisIndex:0,symbol:'none',z:6,silent:true,
      markPoint:{animation:false,silent:true,data:[
        {coord:P_ARROW1,symbol:'triangle',symbolRotate:180,symbolSize:[11,7],itemStyle:{color:'#e3121a'},label:{show:false}},
        {coord:P_ARROW2,symbol:'triangle',symbolRotate:180,symbolSize:[11,7],itemStyle:{color:'#e3121a'},label:{show:false}}
      ]},
      markLine:{animation:false,silent:true,symbol:'none',label:{show:false},data:[
        [{coord:[28,67.3],lineStyle:{color:'#e3121a',width:1,type:'solid'}},{coord:[28,66.1]}],
        [{coord:[89,56.1],lineStyle:{color:'#e3121a',width:1,type:'solid'}},{coord:[89,54.8]}],
        [{coord:[56,50.0],symbol:'none',lineStyle:{color:'#1a1ac0',width:1,type:'solid'}},{coord:[59,50.0],symbol:'arrow',symbolSize:9}]
      ]}},
    {type:'bar',name:'거래량',data:volumes.map((v,i)=>({value:v,itemStyle:{color:candles[i][1]>=candles[i][0]?RED:BLUE}})),xAxisIndex:1,yAxisIndex:2,barWidth:3,animation:false},
    lineS('개인보유수량',indivHold,'#2e8b62',2.5,4,2),
    lineS('기관보유수량',instHold,'#3a62e0',2.5,4,2),
    lineS('외국인보유수량',foreignHold,'#e8101a',2.5,4,2)
  ]
});
</script></body></html>
